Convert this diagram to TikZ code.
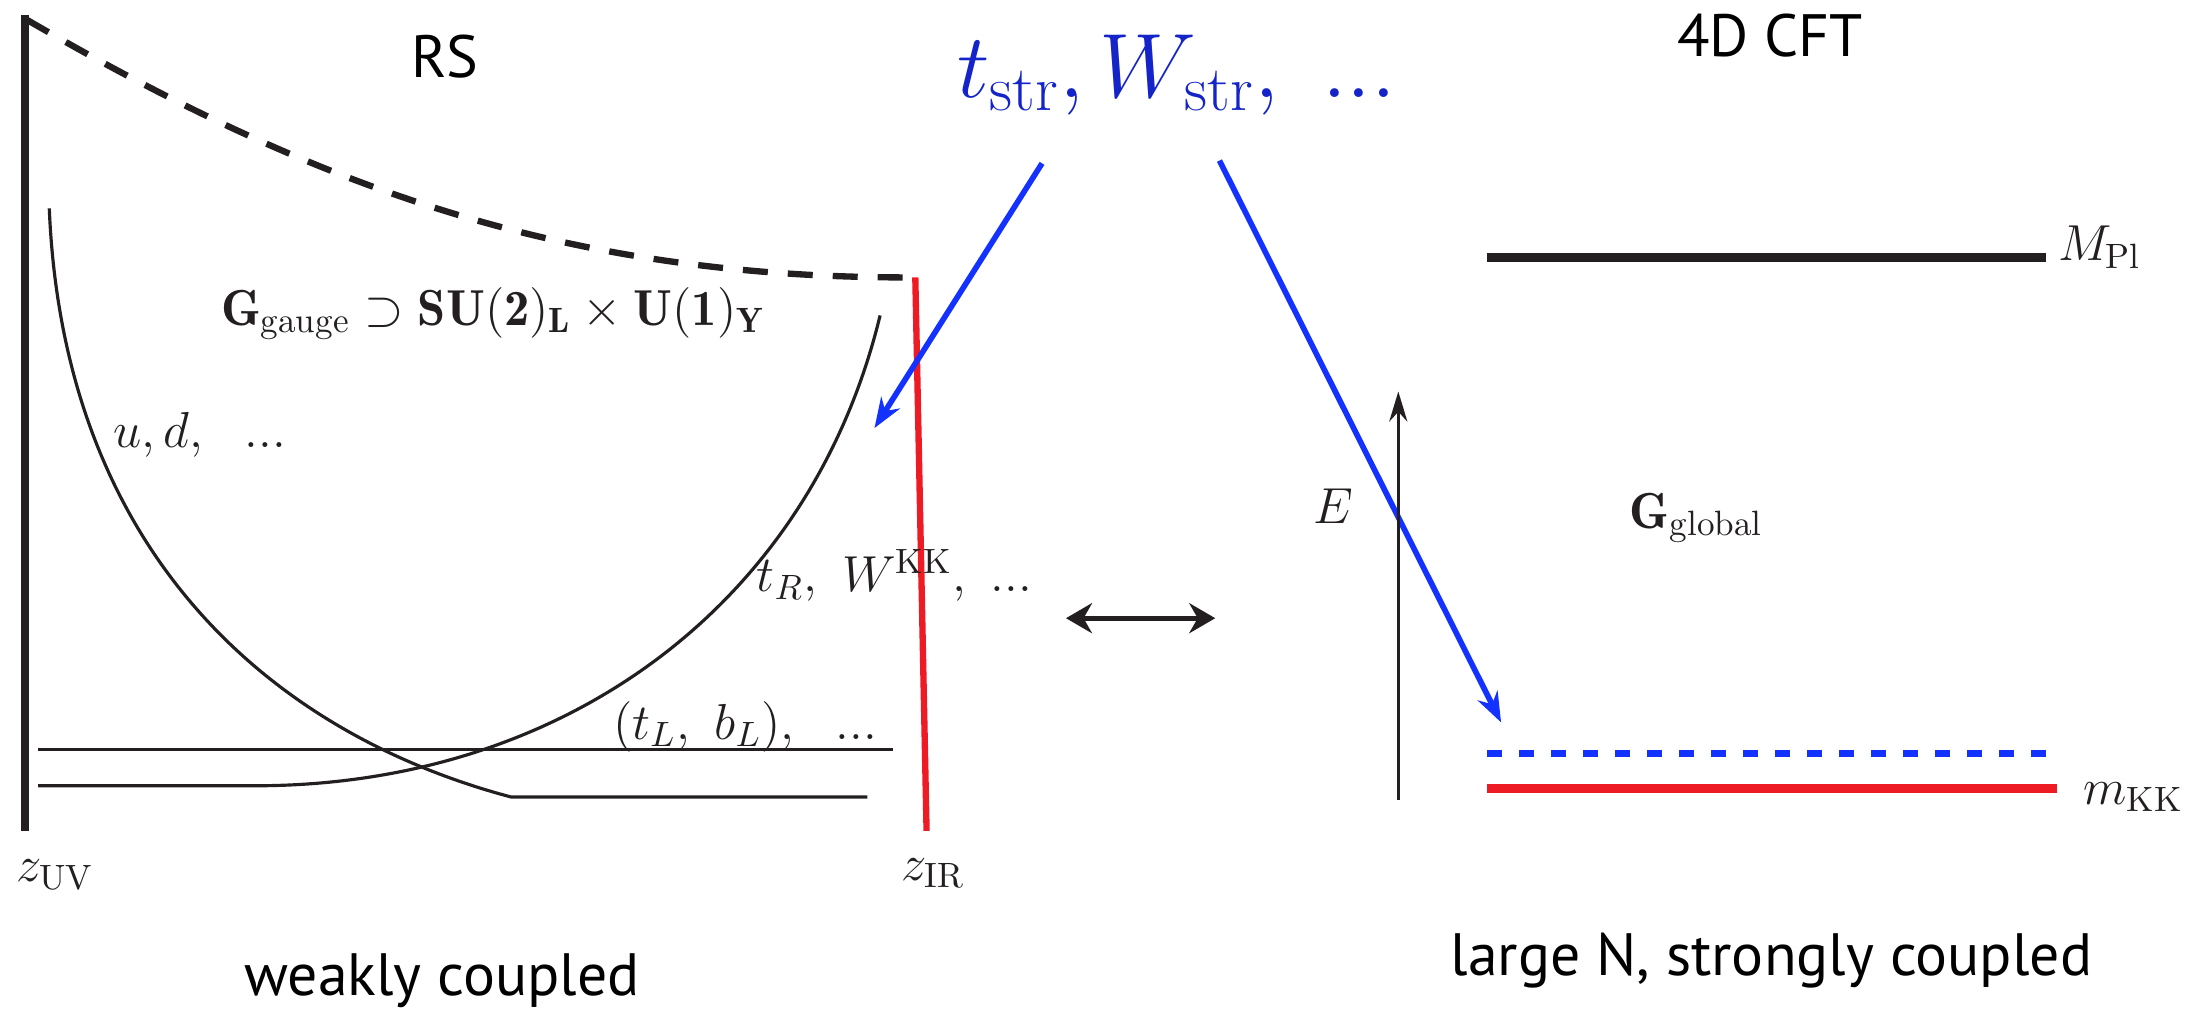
\RequirePackage{fix-cm}
\documentclass[tikz,border=0pt]{standalone}
\usepackage{fontspec}
\newfontfamily\gillfont{PT Sans}
\usepackage{tikz}
\usetikzlibrary{arrows.meta}
\definecolor{rsblack}{HTML}{231F20}
\definecolor{rsred}{HTML}{ED1C24}
\definecolor{rsblue}{HTML}{1432FF}
\definecolor{rstext}{HTML}{1424C8}
\tikzstyle{title}=[font=\gillfont\fontsize{17}{20}\selectfont, inner sep=0pt]
\tikzstyle{lbl}=[font=\fontsize{14.4}{17}\selectfont, inner sep=0pt, text=rsblack]
\tikzstyle{brane}=[line width=2.2pt, draw=rsblack]
\tikzstyle{profile}=[line width=0.9pt, draw=rsblack]
\tikzstyle{level}=[line width=2.7pt]
\tikzstyle{flow}=[line width=1.6pt, draw=rsblue, -{Stealth[length=3mm,width=2.2mm]}]

\begin{document}
\begin{tikzpicture}[x=0.1408mm, y=-0.1408mm]
    \useasboundingbox (0,0) rectangle (1568,718);

    % RS side
    \node[title] (rs) at (316,40) {RS};
    \node[title, anchor=base] (weak) at (314,707) {weakly coupled};
    \coordinate (uvtop) at (18,11);
    \coordinate (uvbot) at (18,590);
    \coordinate (irtop) at (650,197);
    \coordinate (irbot) at (658,590);
    \draw[brane] (uvtop) -- (uvbot);
    \draw[rsblack, line width=1.8pt, dash pattern=on 2.5mm off 2mm]
        (19,14) .. controls (219,130) and (397,198) .. (irtop);
    \draw[rsred, line width=1.8pt] (irtop) -- (irbot);
    \node[lbl, anchor=base west] (zuv) at (11,626) {$z_{\rm UV}$};
    \node[lbl, anchor=base west] (zir) at (640,625) {$z_{\rm IR}$};

    \node[lbl, anchor=base] (gauge) at (350,231)
        {$\mathbf{G}_{\rm gauge}\supset\mathbf{SU(2)_L}\times\mathbf{U(1)_Y}$};
    \node[lbl, anchor=base] (light) at (142,318) {$u, d,\ \ ...$};
    \node[lbl, anchor=base west] (heavy) at (537,420) {$t_R,\ W^{\rm KK},\ ...$};
    \node[lbl, anchor=base west] (doublet) at (435,525) {$(t_L,\ b_L),\ \ ...$};

    % fermion profiles
    \draw[profile] (35,148) .. controls (45,390) and (190,520) .. (363,566) -- (616,566);
    \draw[profile] (27,558) -- (181,558) .. controls (400,558) and (575,430) .. (625,224);
    \draw[profile] (27,532) -- (634,532);

    % duality
    \coordinate (dualL) at (757,439);
    \coordinate (dualR) at (863,439);
    \draw[rsblack, line width=1.4pt, {Stealth[length=2.6mm,width=3mm]}-{Stealth[length=2.6mm,width=3mm]}] (dualL) -- (dualR);

    % strong sector states
    \node[font=\fontsize{26}{30}\selectfont, text=rstext, anchor=base, inner sep=0pt] (str) at (836,69)
        {$t_{\rm str}, W_{\rm str},\ ...$};
    \coordinate (strA) at (740,116);
    \coordinate (strB) at (866,114);
    \coordinate (toIR) at (621,304);
    \coordinate (toKK) at (1066,513);
    \draw[flow] (strA) -- (toIR);
    \draw[flow] (strB) -- (toKK);

    % CFT side
    \node[title] (cft) at (1257,25) {4D CFT};
    \node[title, anchor=base] (strong) at (1258,693) {large N, strongly coupled};
    \coordinate (ebot) at (993,568);
    \coordinate (etop) at (993,278);
    \draw[rsblack, line width=1pt, -{Stealth[length=3mm,width=1.8mm]}] (ebot) -- (etop);
    \node[lbl, anchor=base] (energy) at (947,372) {$E$};
    \node[lbl, anchor=base west] (global) at (1157,375) {$\mathbf{G}_{\rm global}$};

    \draw[level, rsblack] (1056,183) -- (1453,183);
    \node[lbl, anchor=base west] (mpl) at (1461,185) {$M_{\rm Pl}$};
    \draw[rsblue, line width=2pt, dash pattern=on 1.5mm off 1.7mm] (1056,535) -- (1455,535);
    \draw[level, rsred] (1056,560) -- (1461,560);
    \node[lbl, anchor=base west] (mkk) at (1479,571) {$m_{\rm KK}$};
\end{tikzpicture}
\end{document}
